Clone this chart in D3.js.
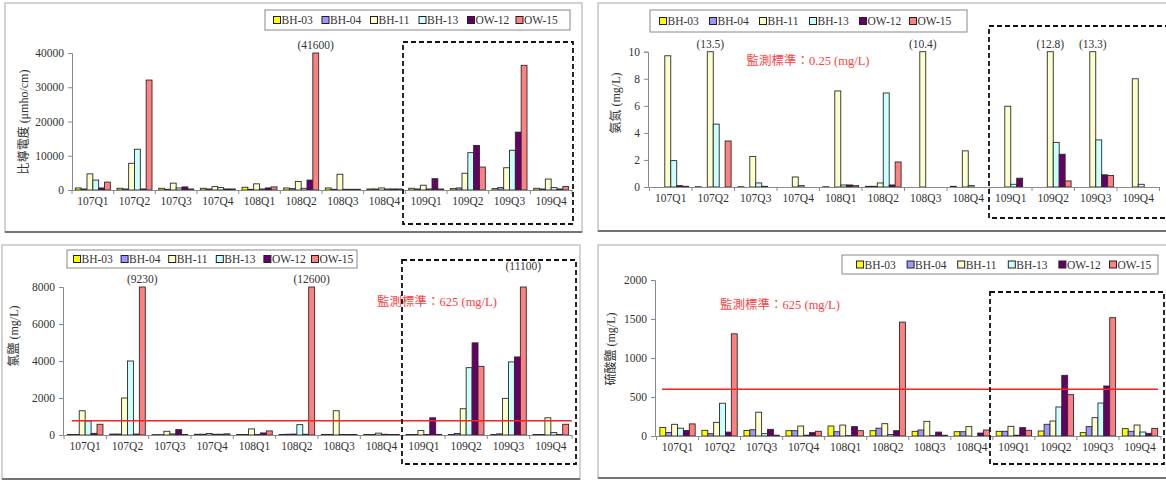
<!DOCTYPE html>
<html><head><meta charset="utf-8">
<script src="https://cdn.jsdelivr.net/npm/d3@7"></script>
<style>
body{margin:0;background:#fff}
svg{display:block}
text{font-family:"Liberation Serif","Noto Sans CJK TC",serif}
</style>
</head><body>
<svg id="c" width="1166" height="481"></svg>
<script>
// ---------------- DATA ----------------
const categories = ["107Q1","107Q2","107Q3","107Q4","108Q1","108Q2","108Q3","108Q4","109Q1","109Q2","109Q3","109Q4"];
const seriesNames = ["BH-03","BH-04","BH-11","BH-13","OW-12","OW-15"];
const seriesColors = ["#ffff00","#9999ff","#ffffcc","#ccffff","#660066","#ff8080"];

// 比導電度 (μmho/cm), one row per series
const conductivity = [
  [600,500,500,500,800,600,600,300,500,400,400,500],
  [300,300,200,300,200,400,200,300,300,600,700,300],
  [4700,7800,2000,1000,1800,2500,4600,600,1400,4900,6500,3200],
  [2900,11900,600,700,300,500,200,300,300,10900,11600,700],
  [600,300,900,300,600,2900,200,300,3300,13000,16900,300],
  [2300,32100,300,300,900,41600,200,300,300,6700,36400,1000]
];
const conductivityTicks = [0,10000,20000,30000,40000];

// 氨氮 (mg/L)
const ammonia = [
  [0,0.02,0.02,0,0.02,0.05,0,0.05,0,0,0,0],
  [0,0,0,0,0,0.05,0,0,0,0,0,0],
  [9.7,13.5,2.25,0.74,7.1,0.3,10.4,2.67,5.97,12.8,13.3,8.0],
  [1.95,4.65,0.3,0.1,0.15,6.95,0,0.1,0.2,3.3,3.48,0.2],
  [0.1,0,0.05,0,0.15,0.15,0,0,0.65,2.42,0.9,0],
  [0.05,3.4,0,0,0.1,1.85,0,0,0,0.45,0.85,0]
];
const ammoniaTicks = [0,2,4,6,8,10];
const ammoniaStdText = "監測標準：0.25 (mg/L)";

// 氯鹽 (mg/L)
const chloride = [
  [30,50,20,40,30,30,30,30,30,30,30,30],
  [30,50,20,40,30,40,30,30,30,80,60,30],
  [1310,2000,200,80,330,50,1310,100,240,1420,1980,930],
  [760,4000,60,40,30,560,30,40,30,3640,3950,130],
  [90,50,290,40,110,40,30,30,930,4980,4220,30],
  [580,9230,30,60,220,12600,30,30,30,3710,11100,580]
];
const chlorideTicks = [0,2000,4000,6000,8000];
const chlorideStdLine = 770;
const chlorideStdText = "監測標準：625 (mg/L)";

// 硫酸鹽 (mg/L)
const sulfate = [
  [110,73,70,68,128,68,60,55,60,64,43,94],
  [45,30,80,68,55,100,77,55,60,150,120,60],
  [150,175,305,128,140,158,188,120,124,192,235,141],
  [100,420,30,10,5,20,5,0,10,372,423,51],
  [70,50,85,43,120,68,50,38,107,778,641,34],
  [155,1310,10,60,68,1460,10,77,73,530,1517,98]
];
const sulfateTicks = [0,500,1000,1500,2000];
const sulfateStdLine = 600;
const sulfateStdText = "監測標準：625 (mg/L)";

// ---------------- LAYOUT ----------------
const panels = [
  { data: conductivity, ticks: conductivityTicks, fmt: d3.format("d"),
    title: "比導電度 (μmho/cm)", titlePos: [25,122],
    frame: [5,3,577,229], axisX: 72, xRange: [72,572], y0: 190, yTop: 53,
    legend: {x:265, y:10, w:305, h:20, first:12, step:48.5},
    dash: [403,42,170,182] },
  { data: ammonia, ticks: ammoniaTicks, fmt: d3.format("d"),
    title: "氨氮 (mg/L)", titlePos: [617,103],
    frame: [598,3,575,228], axisX: 648, xRange: [649.5,1159.5], y0: 187, yTop: 51.7,
    legend: {x:650, y:10, w:317, h:22, first:13, step:50},
    std: null, stdText: ammoniaStdText, stdTextPos: [808,65],
    dash: [989,26,200,192] },
  { data: chloride, ticks: chlorideTicks, fmt: d3.format("d"),
    title: "氯鹽 (mg/L)", titlePos: [15,336],
    frame: [2,245,578,234], axisX: 63, xRange: [64,572], y0: 435, yTop: 287,
    legend: {x:67, y:250, w:290, h:18, first:10, step:47.6},
    std: chlorideStdLine, stdRange: [72,572], stdText: chlorideStdText, stdTextPos: [437,306],
    dash: [402,260,174,204] },
  { data: sulfate, ticks: sulfateTicks, fmt: d3.format("d"),
    title: "硫酸鹽 (mg/L)", titlePos: [612,349],
    frame: [598,245,575,233], axisX: 655, xRange: [656.5,1161], y0: 436, yTop: 280,
    legend: {x:842, y:255, w:316, h:19, first:18, step:50.6},
    std: sulfateStdLine, stdRange: [662,1158], stdText: sulfateStdText, stdTextPos: [780,309],
    dash: [990,292,174,172] }
];
const overflowRaise = {"11100": 13};

const svg = d3.select("#c");

function drawPanel(P) {
  const g = svg.append("g");
  const [fx,fy,fw,fh] = P.frame;
  g.append("rect").attr("x",fx).attr("y",fy).attr("width",fw).attr("height",fh)
    .attr("fill","#fff").attr("stroke","#c4c4c4").attr("stroke-width",1.5);
  g.append("line").attr("x1",fx).attr("x2",fx+fw).attr("y1",fy+fh).attr("y2",fy+fh)
    .attr("stroke","#555").attr("stroke-width",1.5);

  const yMax = P.ticks[P.ticks.length-1];
  const y = d3.scaleLinear().domain([0,yMax]).range([P.y0,P.yTop]).clamp(true);
  const x0 = d3.scaleBand().domain(categories).range(P.xRange).padding(0);
  const x1 = d3.scaleBand().domain(seriesNames).range([0,x0.bandwidth()]).paddingInner(0).paddingOuter(0.57);

  // y axis
  const ya = g.append("g").attr("transform",`translate(${P.axisX},0)`)
    .call(d3.axisLeft(y).tickValues(P.ticks).tickSize(4).tickPadding(4).tickFormat(P.fmt));
  ya.select(".domain").attr("stroke","#8a8a8a");
  ya.selectAll(".tick line").attr("stroke","#8a8a8a");
  ya.selectAll("text").attr("font-size",11.5).attr("fill","#333");

  // bars
  P.data.forEach((row,i)=>{
    g.append("g").selectAll("rect")
      .data(row.map((v,j)=>({v,c:categories[j]})).filter(d=>d.v>0))
      .join("rect")
      .attr("x",d=>x0(d.c)+x1(seriesNames[i]))
      .attr("y",d=>y(d.v))
      .attr("width",x1.bandwidth())
      .attr("height",d=>P.y0-y(d.v))
      .attr("fill",seriesColors[i])
      .attr("stroke","#2a2a2a").attr("stroke-width",0.9);
  });

  // overflow labels
  P.data.forEach((row,i)=>{
    row.forEach((v,j)=>{
      if (v>yMax) {
        g.append("text")
          .attr("x",x0(categories[j])+x1(seriesNames[i])+x1.bandwidth()/2)
          .attr("y",P.yTop-4-(overflowRaise[String(v)]||0))
          .attr("text-anchor","middle").attr("font-size",11.5).attr("fill","#333")
          .text("("+v+")");
      }
    });
  });

  // x axis
  const xa = g.append("g").attr("transform",`translate(0,${P.y0})`)
    .call(d3.axisBottom(x0).tickSize(0).tickPadding(7));
  xa.select(".domain").attr("stroke","#8a8a8a");
  xa.selectAll("text").attr("font-size",11.5).attr("fill","#333");
  const bounds = categories.map(c=>x0(c)).concat([x0.range()[1]]);
  g.append("g").selectAll("line").data(bounds).join("line")
    .attr("x1",d=>d).attr("x2",d=>d).attr("y1",P.y0).attr("y2",P.y0+4)
    .attr("stroke","#8a8a8a");

  // std line
  if (P.std != null) {
    g.append("line").attr("x1",P.stdRange[0]).attr("x2",P.stdRange[1])
      .attr("y1",y(P.std)).attr("y2",y(P.std))
      .attr("stroke","#ff2020").attr("stroke-width",1.4);
  }
  if (P.stdText) {
    g.append("text").attr("x",P.stdTextPos[0]).attr("y",P.stdTextPos[1])
      .attr("text-anchor","middle").attr("font-size",12.5).attr("fill","#ff4040")
      .text(P.stdText);
  }

  // y title
  g.append("text").attr("transform",`translate(${P.titlePos[0]},${P.titlePos[1]}) rotate(-90)`)
    .attr("text-anchor","middle").attr("dominant-baseline","middle")
    .attr("font-size",12).attr("fill","#333").text(P.title);

  // legend
  const L = P.legend;
  g.append("rect").attr("x",L.x).attr("y",L.y).attr("width",L.w).attr("height",L.h)
    .attr("fill","#fff").attr("stroke","#888").attr("stroke-width",1);
  seriesNames.forEach((s,i)=>{
    const lx = L.x+L.first+i*L.step, cy = L.y+L.h/2;
    g.append("rect").attr("x",lx-3.5).attr("y",cy-3.5).attr("width",7).attr("height",7)
      .attr("fill",seriesColors[i]).attr("stroke","#222").attr("stroke-width",1);
    g.append("text").attr("x",lx+4.5).attr("y",cy).attr("dominant-baseline","central")
      .attr("font-size",11.5).attr("fill","#333").text(s);
  });

  // dashed box
  const [dx,dy,dw,dh] = P.dash;
  g.append("rect").attr("x",dx).attr("y",dy).attr("width",dw).attr("height",dh)
    .attr("fill","none").attr("stroke","#111").attr("stroke-width",1.8)
    .attr("stroke-dasharray","5,3");
}

panels.forEach(drawPanel);
</script>
</body></html>
